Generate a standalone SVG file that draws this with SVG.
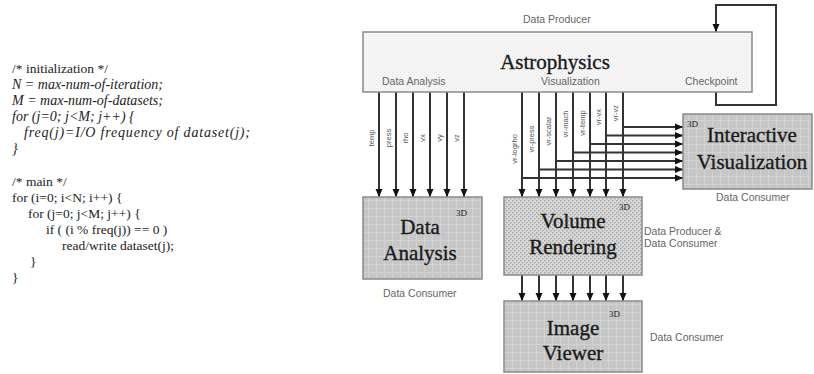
<svg xmlns="http://www.w3.org/2000/svg" width="814" height="374" viewBox="0 0 814 374">
<defs>
<pattern id="grid" width="8" height="8" patternUnits="userSpaceOnUse">
<rect width="8" height="8" fill="#c6c6c6"/>
<path d="M0 0.5H8M0.5 0V8" stroke="#d2d2d2" stroke-width="1"/>
</pattern>
<pattern id="dots" width="4" height="4" patternUnits="userSpaceOnUse">
<rect width="4" height="4" fill="#d8d8d8"/>
<rect x="0" y="0" width="1.5" height="1.5" fill="#a8a8a8"/>
<rect x="2" y="2" width="1.5" height="1.5" fill="#a8a8a8"/>
</pattern>
<pattern id="light" width="4" height="4" patternUnits="userSpaceOnUse">
<rect width="4" height="4" fill="#f6f6f6"/>
<rect x="0" y="0" width="1" height="1" fill="#e4e4e4"/>
<rect x="2" y="2" width="1" height="1" fill="#e4e4e4"/>
</pattern>
<marker id="ah" markerUnits="userSpaceOnUse" markerWidth="8" markerHeight="8" viewBox="0 0 8 8" refX="8" refY="4" orient="auto">
<path d="M0 0.5L8 4L0 7.5Z" fill="#111"/>
</marker>
</defs>
<style>
.code{font-size:13.5px;fill:#222}
.it{font-style:italic;font-size:14px}
.big{font-size:21px;fill:#1a1a1a;stroke:#1a1a1a;stroke-width:0.35;text-anchor:middle}
.sm{font-family:"Liberation Sans",Arial,sans-serif;font-size:10.5px;fill:#666}
.lab{font-family:"Liberation Sans",Arial,sans-serif;font-size:7.5px;fill:#555}
.sup{font-size:9px;fill:#222}
.box{stroke:#8a8a8a;stroke-width:1.5}
.c{fill:none;stroke:#333;stroke-width:2}
.ca{fill:none;stroke:#333;stroke-width:2;marker-end:url(#ah)}
</style>

<g id="code" font-family="'Liberation Serif', 'Times New Roman', 'DejaVu Serif', serif">
<text class="code" x="12" y="73">/* initialization */</text>
<text class="code it" x="12" y="89">N = max-num-of-iteration;</text>
<text class="code it" x="12" y="105">M = max-num-of-datasets;</text>
<text class="code it" x="12" y="121">for (j=0; j&lt;M; j++) {</text>
<text class="code it" x="24" y="137" textLength="226" lengthAdjust="spacing">freq(j)=I/O frequency of dataset(j);</text>
<text class="code it" x="12" y="153">}</text>
<text class="code" x="12" y="186">/* main */</text>
<text class="code" x="12" y="202">for (i=0; i&lt;N; i++) {</text>
<text class="code" x="28" y="218">for (j=0; j&lt;M; j++) {</text>
<text class="code" x="46" y="234">if ( (i % freq(j)) == 0 )</text>
<text class="code" x="62" y="250">read/write dataset(j);</text>
<text class="code" x="30" y="266">}</text>
<text class="code" x="12" y="282">}</text>
</g>

<g id="connectors">
<path class="c" d="M716 92V105H776V5H716V30"/>
<path class="ca" d="M716 20V32"/>
<path class="ca" d="M379 92V197"/>
<path class="ca" d="M396 92V197"/>
<path class="ca" d="M413 92V197"/>
<path class="ca" d="M430 92V197"/>
<path class="ca" d="M447 92V197"/>
<path class="ca" d="M464 92V197"/>
<path class="ca" d="M522 92V197"/>
<path class="ca" d="M539 92V197"/>
<path class="ca" d="M556 92V197"/>
<path class="ca" d="M573 92V197"/>
<path class="ca" d="M590 92V197"/>
<path class="ca" d="M606 92V197"/>
<path class="ca" d="M623 92V197"/>
<path class="ca" d="M522 178H683"/>
<path class="ca" d="M539 169.5H683"/>
<path class="ca" d="M556 161H683"/>
<path class="ca" d="M573 152.5H683"/>
<path class="ca" d="M590 144H683"/>
<path class="ca" d="M606 135.5H683"/>
<path class="ca" d="M623 127H683"/>
<path class="ca" d="M522 275V301"/>
<path class="ca" d="M539 275V301"/>
<path class="ca" d="M556 275V301"/>
<path class="ca" d="M573 275V301"/>
<path class="ca" d="M590 275V301"/>
<path class="ca" d="M606 275V301"/>
<path class="ca" d="M623 275V301"/>
<text class="lab" transform="translate(374 138) rotate(-90)" text-anchor="middle">temp</text>
<text class="lab" transform="translate(391 138) rotate(-90)" text-anchor="middle">press</text>
<text class="lab" transform="translate(408 138) rotate(-90)" text-anchor="middle">rho</text>
<text class="lab" transform="translate(425 138) rotate(-90)" text-anchor="middle">vx</text>
<text class="lab" transform="translate(442 138) rotate(-90)" text-anchor="middle">vy</text>
<text class="lab" transform="translate(459 138) rotate(-90)" text-anchor="middle">vz</text>
<text class="lab" transform="translate(517 149) rotate(-90)" text-anchor="middle">vr-logrho</text>
<text class="lab" transform="translate(534 139) rotate(-90)" text-anchor="middle">vr-press</text>
<text class="lab" transform="translate(551 131) rotate(-90)" text-anchor="middle">vr-scalar</text>
<text class="lab" transform="translate(568 124) rotate(-90)" text-anchor="middle">vr-mach</text>
<text class="lab" transform="translate(585 123) rotate(-90)" text-anchor="middle">vr-temp</text>
<text class="lab" transform="translate(601 117) rotate(-90)" text-anchor="middle">vr-vx</text>
<text class="lab" transform="translate(618 113) rotate(-90)" text-anchor="middle">vr-vz</text>
</g>

<g id="astrophysics">
<rect class="box" x="363" y="32" width="389" height="60" fill="url(#light)" stroke="#b0b0b0"/>
<text class="sm" x="523" y="23">Data Producer</text>
<text class="big" x="555" y="69" font-family="'Liberation Serif', 'Times New Roman', 'DejaVu Serif', serif">Astrophysics</text>
<text class="sm" x="382" y="85">Data Analysis</text>
<text class="sm" x="541" y="85">Visualization</text>
<text class="sm" x="685" y="85">Checkpoint</text>
</g>

<g id="data-analysis" font-family="'Liberation Serif', 'Times New Roman', 'DejaVu Serif', serif">
<rect class="box" x="363" y="197" width="119" height="82" fill="url(#grid)"/>
<text class="sup" x="456" y="216">3D</text>
<text class="big" x="420" y="234">Data</text>
<text class="big" x="420" y="260">Analysis</text>
<text class="sm" x="383" y="297">Data Consumer</text>
</g>

<g id="volume-rendering" font-family="'Liberation Serif', 'Times New Roman', 'DejaVu Serif', serif">
<rect class="box" x="504" y="197" width="138" height="78" fill="url(#dots)"/>
<text class="sup" x="619" y="210">3D</text>
<text class="big" x="573" y="228">Volume</text>
<text class="big" x="573" y="254">Rendering</text>
<text class="sm" x="644" y="235">Data Producer &amp;</text>
<text class="sm" x="644" y="247">Data Consumer</text>
</g>

<g id="interactive-visualization" font-family="'Liberation Serif', 'Times New Roman', 'DejaVu Serif', serif">
<rect class="box" x="683" y="114" width="129" height="75" fill="url(#grid)"/>
<text class="sup" x="687" y="127">3D</text>
<text class="big" x="752" y="142">Interactive</text>
<text class="big" x="752" y="169">Visualization</text>
<text class="sm" x="716" y="201">Data Consumer</text>
</g>

<g id="image-viewer" font-family="'Liberation Serif', 'Times New Roman', 'DejaVu Serif', serif">
<rect class="box" x="504" y="301" width="138" height="71" fill="url(#grid)"/>
<text class="sup" x="609" y="317">3D</text>
<text class="big" x="573" y="335">Image</text>
<text class="big" x="573" y="360">Viewer</text>
<text class="sm" x="650" y="341">Data Consumer</text>
</g>
</svg>
